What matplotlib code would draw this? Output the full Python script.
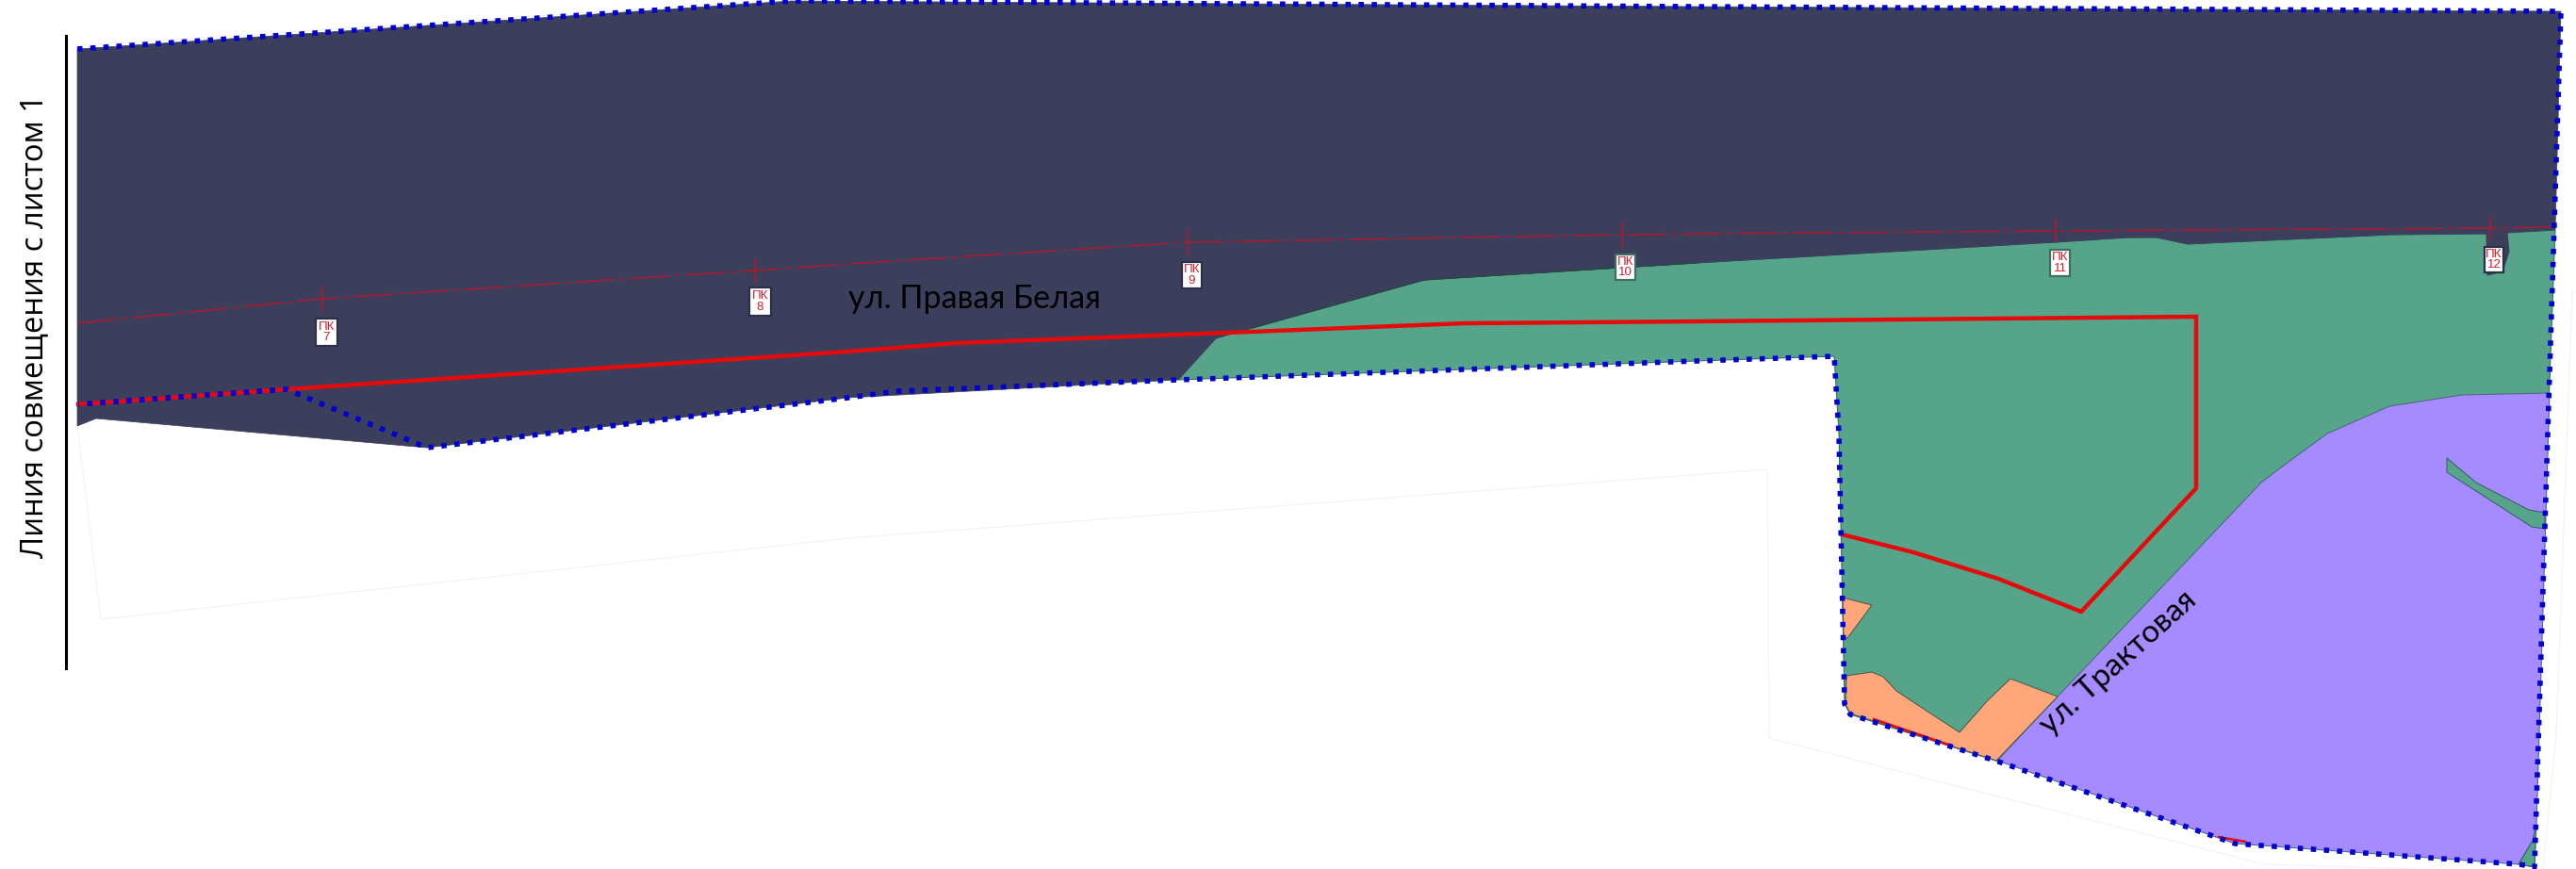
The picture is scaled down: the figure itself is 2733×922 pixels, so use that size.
#!/usr/bin/env python3
"""Plan sheet: road corridor zones, red lines and pickets, pixel frame 2733x922."""
import matplotlib
matplotlib.use("Agg")
import matplotlib.pyplot as plt
from matplotlib.patches import Polygon, Rectangle

W, H = 2733, 922

# zones
DARK_ZONE = [(82, 52), (840, 1), (1800, 7), (2717, 12), (2711, 244), (2660, 247), (2662, 267),
             (2655, 288), (2639, 292), (2638, 248), (2538, 249), (2321, 259), (2288, 252),
             (2258, 252), (2181, 257), (1800, 279), (1511, 297), (1325, 349), (1290, 359),
             (1250, 403), (900, 422), (453, 475), (102, 444), (82, 452)]
GREEN_ZONE = [(1250, 403), (1290, 359), (1325, 349), (1511, 297), (1800, 279), (2181, 257),
              (2258, 252), (2288, 252), (2321, 259), (2538, 249), (2638, 248), (2639, 292),
              (2655, 288), (2662, 267), (2660, 247), (2711, 244), (2703, 460), (2689, 920),
              (2120, 808), (1963, 758), (1957, 747), (1951, 460), (1946, 378), (1800, 383)]
PURPLE_ZONE = [(2705, 417), (2612, 419), (2535, 431), (2469, 460), (2424, 493), (2399, 512),
               (2323, 592), (2182, 740), (2119, 807), (2371, 895), (2563, 909), (2672, 917),
               (2687, 892), (2691, 875)]
GREEN_SLIVER = [(2596, 486), (2596, 501), (2686, 559), (2700, 561), (2700, 544), (2683, 541),
                (2627, 512)]
GREEN_CORNER = [(2672, 917), (2687, 892), (2691, 875), (2689, 920)]
ORANGE_TOP = [(1955, 634), (1986, 642), (1960, 677), (1956, 677)]
ORANGE_BOTTOM = [(1959, 717), (1986, 713), (1998, 718), (2012, 733), (2027, 743), (2079, 777),
                 (2108, 744), (2133, 720), (2183, 739), (2118, 807), (1963, 757), (1958, 747)]

# lines
BOUNDARY = [(82, 52), (840, 1), (1800, 7), (2717, 12), (2703, 460), (2689, 920), (2673, 917),
            (2563, 909), (2371, 895), (2120, 808), (1963, 758), (1957, 747), (1951, 460),
            (1946, 378), (1800, 383), (1250, 403), (952, 415), (900, 422), (453, 475),
            (304, 413), (83, 429)]
RED_LINE = [(83, 429), (304, 413), (900, 373), (1015, 364), (1302, 353), (1554, 343),
            (1800, 341), (2330, 336), (2330, 518), (2208, 649), (2120, 614), (2030, 586),
            (1954, 567)]
RED_BITS = [[(2354, 888), (2382, 893)], [(1988, 763), (2067, 790)]]
AXIS_LINE = [(82, 343), (342, 317), (801, 287), (900, 280), (1260, 257), (1721, 249),
             (1800, 248), (2181, 245), (2642, 242), (2708, 241)]
SHEET_OUTLINE = [[(82, 48), (840, 0)], [(82, 452), (107, 657), (900, 571), (1875, 498),
                 (1877, 783), (2402, 917), (2560, 922)], [(2698, 922), (2712, 780), (2729, 310)]]
JOIN_LINE = [(70, 38), (70, 709)]

# pickets
PK_NAMES = ["7", "8", "9", "10", "11", "12"]
PK_TICK_X = [342, 801, 1260, 1721, 2181, 2642]
PK_TICK_Y = [317, 287, 257, 249, 245, 242]
PK_BOX_X = [335, 795, 1254, 1714, 2175, 2636]
PK_BOX_Y = [338, 305, 278, 270, 265, 262]
PK_BOX_W = [23, 23, 21, 21, 21, 20]
PK_BOX_H = [29, 30, 28, 27, 28, 27]
PK_EDGE = ["#2c2f48", "#2c2f48", "#2c2f48", "#3f6f62", "#3f6f62", "#2c2f48"]

DARK = "#3c3f5c"
GREEN = "#56a58b"
PURPLE = "#a58bff"
ORANGE = "#ffa67a"
RED = "#e30b0b"
BLUE = "#0000d2"


def main():
    fig = plt.figure(figsize=(W / 100, H / 100), dpi=100)
    ax = fig.add_axes([0, 0, 1, 1])
    ax.set_xlim(0, W)
    ax.set_ylim(H, 0)
    ax.axis("off")

    for line in SHEET_OUTLINE:
        ax.plot(*zip(*line), color="#f3f3f3", lw=0.9, zorder=1)

    ax.add_patch(Polygon(GREEN_ZONE, fc=GREEN, ec="#2f5f55", lw=0.7, zorder=2))
    ax.add_patch(Polygon(DARK_ZONE, fc=DARK, ec=DARK, lw=0.5, zorder=2))
    ax.plot([1800, 1511, 1325], [279, 297, 349], color="#24473f", lw=0.8, zorder=2.1)
    ax.add_patch(Polygon(PURPLE_ZONE, fc=PURPLE, ec="#4f6a80", lw=0.8, zorder=3))
    ax.add_patch(Polygon(GREEN_SLIVER, fc=GREEN, ec="#3f5f70", lw=0.8, zorder=3.1))
    ax.add_patch(Polygon(GREEN_CORNER, fc=GREEN, ec="#3f5f70", lw=0.8, zorder=3.1))
    ax.add_patch(Polygon(ORANGE_TOP, fc=ORANGE, ec="#4f5f50", lw=0.8, zorder=3.1))
    ax.add_patch(Polygon(ORANGE_BOTTOM, fc=ORANGE, ec="#4f5f50", lw=0.8, zorder=3.1))

    # centre line with picket ticks
    ax.plot(*zip(*AXIS_LINE), color="#b0182c", lw=1.1,
            linestyle=(0, (28, 3.5, 3.5, 3.5)), zorder=4)
    for x, y in zip(PK_TICK_X, PK_TICK_Y):
        ax.plot([x, x], [y - 12, y + 12], color="#b0182c", lw=1.1, zorder=4)

    ax.plot(*zip(*RED_LINE), color=RED, lw=3.2, solid_joinstyle="miter", zorder=5)
    for bit in RED_BITS:
        ax.plot(*zip(*bit), color=RED, lw=1.8, zorder=5)
    ax.plot(*zip(*BOUNDARY), color=BLUE, lw=4.0, linestyle=(0, (1, 1.5)),
            dash_capstyle="butt", zorder=6)

    for name, bx, by, bw, bh, edge in zip(PK_NAMES, PK_BOX_X, PK_BOX_Y, PK_BOX_W, PK_BOX_H, PK_EDGE):
        ax.add_patch(Rectangle((bx, by), bw, bh, fc="white", ec=edge, lw=1.6, zorder=7))
        ax.text(bx + bw / 2, by + bh / 2, "ПК\n" + name, ha="center", va="center",
                family="Liberation Sans", fontsize=9.6, linespacing=0.95, color="#d0202c", zorder=8)

    ax.plot(*zip(*JOIN_LINE), color="black", lw=2.2, zorder=7)
    ax.text(37, 346, "Линия совмещения с листом 1", rotation=90, ha="center", va="center",
            family="Open Sans", fontsize=23.7, color="black", zorder=8)
    ax.text(1034, 317, "ул. Правая Белая", ha="center", va="center",
            family="Lato", fontsize=24.6, color="black", zorder=8)
    ax.text(2247, 703, "ул. Трактовая", rotation=42, rotation_mode="anchor", ha="center", va="center",
            family="Lato", fontsize=24, color="black", zorder=8)

    fig.savefig("out.png", dpi=100, facecolor="white")


if __name__ == "__main__":
    main()
